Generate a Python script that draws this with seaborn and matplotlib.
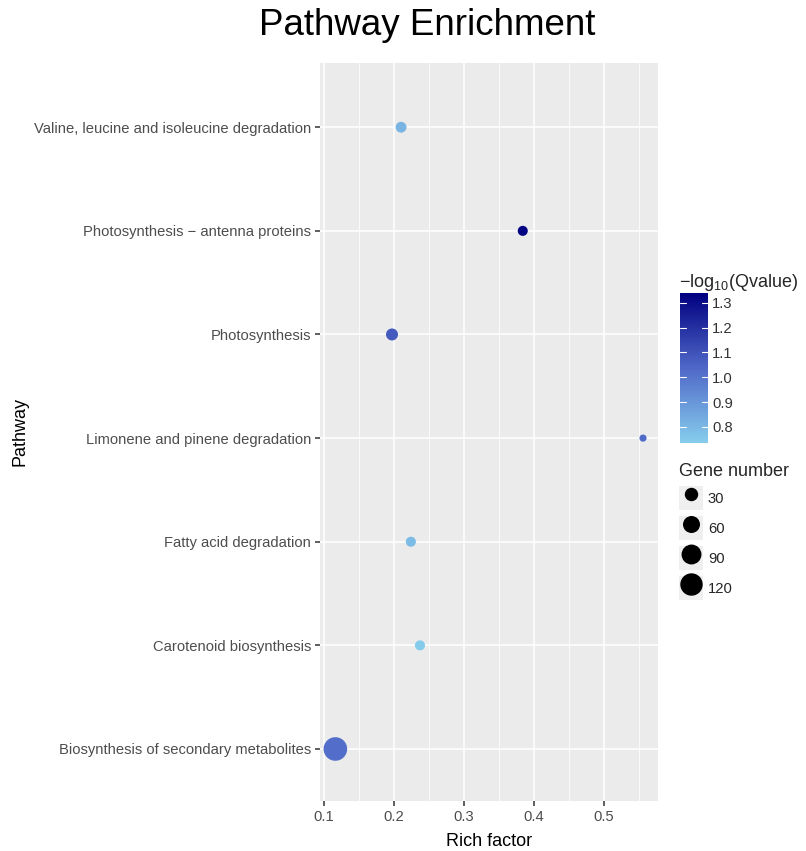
import numpy as np
import pandas as pd
import matplotlib
matplotlib.use('Agg')
import matplotlib.pyplot as plt
from matplotlib.colors import LinearSegmentedColormap, Normalize
from matplotlib.lines import Line2D
from matplotlib.patches import Patch
from matplotlib.legend_handler import HandlerTuple
import seaborn as sns

# data, listed bottom -> top as drawn
pathways = ['Biosynthesis of secondary metabolites', 'Carotenoid biosynthesis',
            'Fatty acid degradation', 'Limonene and pinene degradation',
            'Photosynthesis', 'Photosynthesis \u2212 antenna proteins',
            'Valine, leucine and isoleucine degradation']
rich_factor = [0.116, 0.237, 0.224, 0.556, 0.197, 0.384, 0.21]
qvalue_log = [1.02, 0.74, 0.79, 1.03, 1.08, 1.33, 0.81]
gene_number = [155, 17, 17, 2, 30, 17, 22]
size_breaks = [30, 60, 90, 120]

df = pd.DataFrame({'Pathway': pathways, 'Rich factor': rich_factor,
                   'q': qvalue_log, 'Gene number': gene_number})

sns.set_theme(style='darkgrid')
plt.rcParams['font.family'] = ['Liberation Sans', 'DejaVu Sans']
plt.rcParams['mathtext.fontset'] = 'custom'
plt.rcParams['mathtext.rm'] = 'Liberation Sans'

cmap = LinearSegmentedColormap.from_list('q', ['#86CDEC', '#4F68C8', '#000080'])
qmin, qmax = 0.735, 1.34
norm = Normalize(qmin, qmax)
smin, smax = 23.3, 297.0
fs_tick = 10.6
fs_title = 13

fig = plt.figure(figsize=(8.06, 8.51), dpi=100)
ax = fig.add_axes([0.397, 0.059, 0.419, 0.867])
ax.set_facecolor('#EBEBEB')

sns.scatterplot(data=df, x='Rich factor', y='Pathway', hue='q', size='Gene number',
                palette=cmap, hue_norm=norm, sizes=(smin, smax), size_norm=(0, 160),
                linewidth=0, alpha=1, legend=False, ax=ax, zorder=3)

ax.set_xlim(0.094, 0.577)
ax.set_ylim(-0.5, 6.62)
ax.set_xticks([0.1, 0.2, 0.3, 0.4, 0.5])
ax.set_xticks([0.15, 0.25, 0.35, 0.45, 0.55], minor=True)
ax.grid(which='major', color='white', linewidth=1.1)
ax.grid(which='minor', axis='x', color='white', linewidth=0.55)
for s in ax.spines.values():
    s.set_visible(False)
ax.tick_params(axis='both', which='major', bottom=True, left=True, length=3.5, width=1.1,
               color='#333333', labelsize=fs_tick, labelcolor='#4D4D4D', pad=3)
ax.tick_params(axis='x', which='minor', length=0)
ax.set_xlabel('Rich factor', fontsize=fs_title, color='black', labelpad=6.5)
ax.set_ylabel('Pathway', fontsize=fs_title, color='black')
ax.yaxis.set_label_coords(-0.862, 0.5)

fig.suptitle('Pathway Enrichment', fontsize=26.5, color='black', x=0.53, y=0.991)

# colour bar
cax = fig.add_axes([0.8437, 0.4795, 0.0347, 0.1763])
sm = plt.cm.ScalarMappable(norm=norm, cmap=cmap)
cb = fig.colorbar(sm, cax=cax, ticks=[0.8, 0.9, 1.0, 1.1, 1.2, 1.3])
cb.outline.set_visible(False)
cb.ax.set_yticklabels(['0.8', '0.9', '1.0', '1.1', '1.2', '1.3'])
cb.ax.tick_params(length=0, labelsize=fs_tick, labelcolor='#333333', pad=3)
for t in [0.8, 0.9, 1.0, 1.1, 1.2, 1.3]:
    cb.ax.plot([0, 0.2], [t, t], color='white', lw=0.8, transform=cb.ax.get_yaxis_transform())
    cb.ax.plot([0.8, 1.0], [t, t], color='white', lw=0.8, transform=cb.ax.get_yaxis_transform())
fig.text(0.8425, 0.6685, r'$\mathrm{-log_{10}(Qvalue)}$', fontsize=fs_title, ha='left', va='center')

# size legend
handles = []
for b in size_breaks:
    s = smin + b / 160 * (smax - smin)
    handles.append((Patch(facecolor='#EFEFEF', edgecolor='none'),
                    Line2D([], [], marker='o', ls='', color='black', ms=np.sqrt(s))))
leg = fig.legend(handles, [str(b) for b in size_breaks], title='Gene number',
                 loc='upper left', bbox_to_anchor=(0.8425, 0.456), frameon=False,
                 handler_map={tuple: HandlerTuple(ndivide=1, pad=0)},
                 handlelength=1.65, handleheight=2.13, labelspacing=0.41,
                 handletextpad=0.3, fontsize=fs_tick, title_fontsize=fs_title,
                 alignment='left', borderaxespad=0, borderpad=0)

fig.savefig('out.png', dpi=100)
